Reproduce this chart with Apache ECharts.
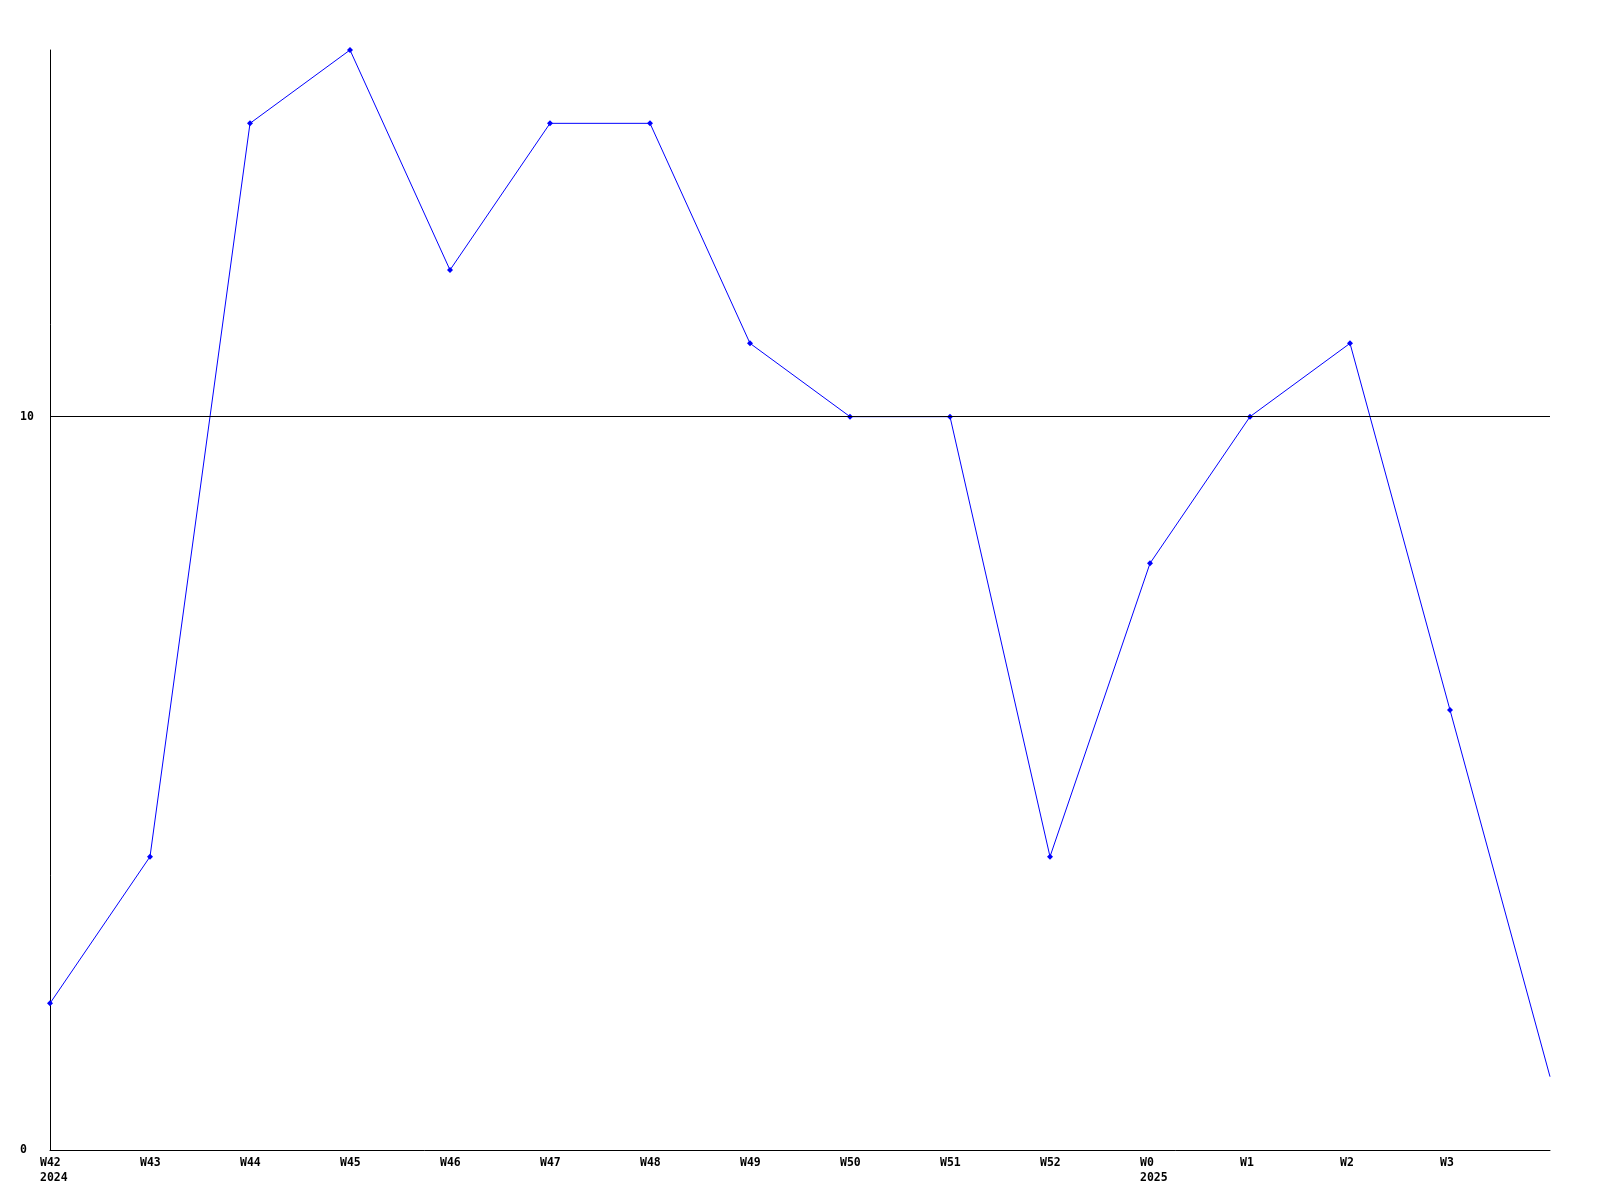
<!DOCTYPE html>
<html><head><meta charset="utf-8">
<script src="https://cdn.jsdelivr.net/npm/echarts@6/dist/echarts.min.js"></script>
<style>html,body{margin:0;padding:0;background:#fff}#c{width:1600px;height:1200px}</style>
</head><body><div id="c"></div>
<script>
const weeks = ['W42','W43','W44','W45','W46','W47','W48','W49','W50','W51','W52','W0','W1','W2','W3',''];
const yearLabels = {'W42':'2024','W0':'2025'};
const values = [2,4,14,15,12,14,14,11,10,10,4,8,10,11,6,1];
const yTickLabels = [0,10];
const refLine = 10;

const chart = echarts.init(document.getElementById('c'), null, {renderer:'canvas'});
const font = {fontFamily:'DejaVu Sans Mono', fontWeight:'bold', fontSize:11.5, color:'#000'};
chart.setOption({
  animation:false,
  backgroundColor:'#fff',
  grid:{left:50,right:50,top:50,bottom:50,containLabel:false},
  xAxis:{
    type:'category', data:weeks, boundaryGap:false,
    axisLine:{lineStyle:{color:'#000',width:1}},
    axisTick:{show:false},
    splitLine:{show:false},
    axisLabel:Object.assign({}, font, {
      interval:0, margin:6, align:'center', lineHeight:15,
      formatter:function(v){ if(!v) return ''; return yearLabels[v] ? '{a|'+v+'}\n{a|'+yearLabels[v]+'}' : '{a|'+v+'}'; },
      rich:{a:Object.assign({}, font, {width:20, align:'left', lineHeight:15})}
    })
  },
  yAxis:{
    type:'value', min:0, max:15, interval:5,
    axisLine:{show:true, lineStyle:{color:'#000',width:1}},
    axisTick:{show:false},
    splitLine:{show:false},
    axisLabel:Object.assign({}, font, {
      align:'left', margin:30, showMaxLabel:false,
      formatter:function(v){ return yTickLabels.indexOf(v)>=0 ? String(v) : ''; }
    })
  },
  series:[{
    type:'line',
    data:values.map(function(v,i){ return i===values.length-1 ? {value:v, symbol:'none'} : {value:v}; }),
    symbol:'diamond', symbolSize:6, showSymbol:true,
    lineStyle:{color:'#0000ff',width:1},
    itemStyle:{color:'#0000ff'},
    markLine:{
      silent:true, symbol:'none', label:{show:false},
      lineStyle:{color:'#000',width:1,type:'solid'},
      data:[{yAxis:refLine}]
    }
  }]
});
</script></body></html>
